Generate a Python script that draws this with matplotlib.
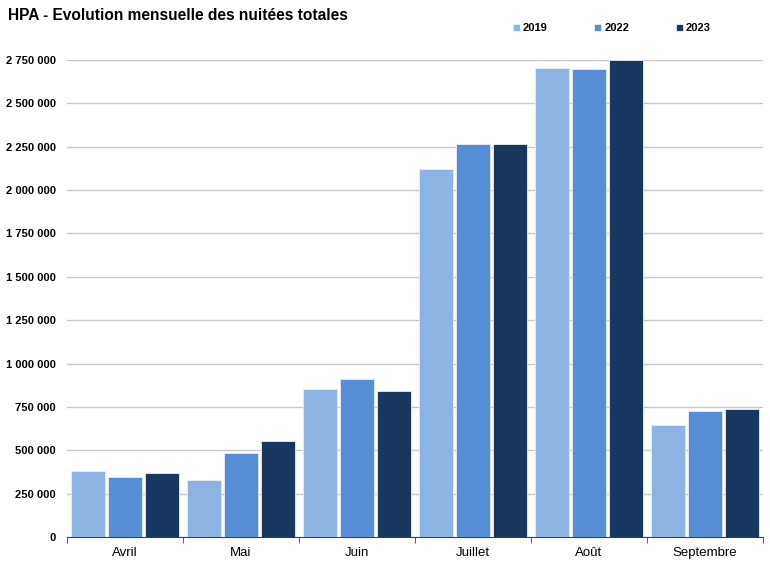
import matplotlib.pyplot as plt
import matplotlib.ticker as mticker
import numpy as np

plt.rcParams['font.family'] = ['Liberation Sans', 'DejaVu Sans']

# data
months = ['Avril', 'Mai', 'Juin', 'Juillet', 'Août', 'Septembre']
years = ['2019', '2022', '2023']
n2019 = [380000, 327000, 853000, 2122000, 2704000, 644000]
n2022 = [345000, 484000, 911000, 2264000, 2698000, 728000]
n2023 = [371000, 553000, 842000, 2264000, 2750000, 736000]
colors = ['#8DB3E2', '#558ED5', '#17375E']

fig = plt.figure(figsize=(7.7, 5.64), dpi=100)
ax = fig.add_axes([67/770, 1-537/564, 696/770, 477/564])

x = np.arange(len(months))
step = 0.32
for i, (vals, c, lab) in enumerate(zip([n2019, n2022, n2023], colors, years)):
    ax.bar(x + (i-1)*step, vals, width=0.295, color=c, edgecolor='#E8EEF6',
           linewidth=0.6, label=lab, zorder=3)

ax.set_xlim(-0.5, len(months)-0.5)
ax.set_ylim(0, 2750000)
ax.yaxis.set_major_locator(mticker.MultipleLocator(250000))
ax.yaxis.set_major_formatter(mticker.FuncFormatter(
    lambda v, p: '{:,.0f}'.format(v).replace(',', ' ')))
ax.grid(axis='y', color='#C8C8C8', lw=1, zorder=0)

ax.set_xticks(x)
ax.set_xticklabels(months, fontsize=9.5)
ax.set_xticks(np.arange(-0.5, len(months)), minor=True)
ax.tick_params(axis='x', which='major', length=0, pad=7)
ax.tick_params(axis='x', which='minor', length=4, color='#404040')
ax.tick_params(axis='y', length=0, pad=8)
for t in ax.get_yticklabels():
    t.set_fontweight('bold')
    t.set_fontsize(8)

for s in ['top', 'right', 'left']:
    ax.spines[s].set_visible(False)
ax.spines['bottom'].set_color('#404040')

fig.text(8/770, 1-15/564, 'HPA - Evolution mensuelle des nuitées totales',
         fontsize=11.2, fontweight='bold', va='center')

leg = fig.legend(loc='center', bbox_to_anchor=(612/770, 1-28/564), ncol=3,
                 frameon=False, handlelength=0.6, handleheight=0.6,
                 handletextpad=0.3, columnspacing=4.2,
                 prop={'weight': 'bold', 'size': 8})

fig.savefig('out.png', dpi=100)
